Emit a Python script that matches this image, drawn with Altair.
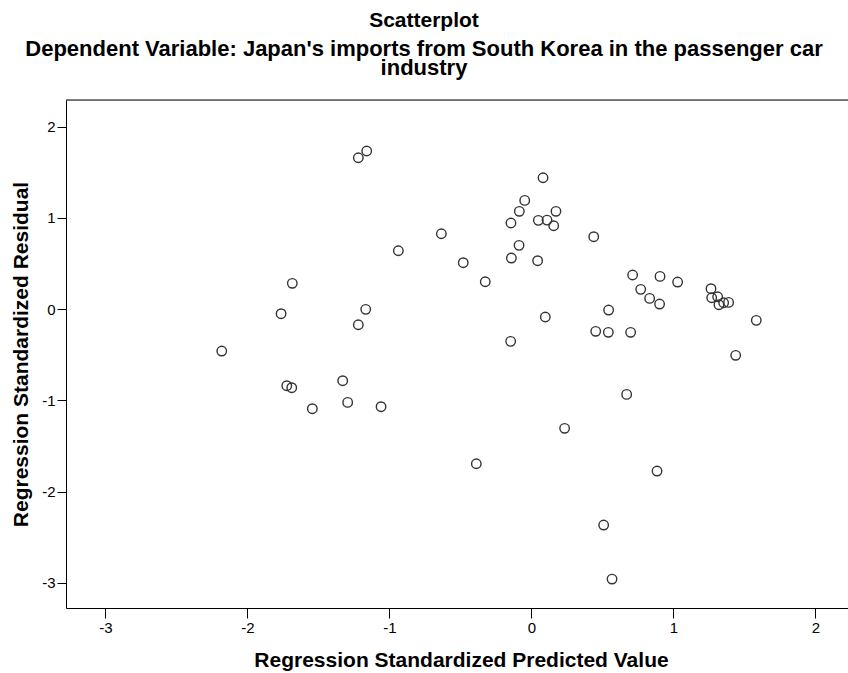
import altair as alt
import pandas as pd

pred = [-1.160, -1.219, -0.634, -0.937, -0.480, -0.325, -1.684, -1.763, -1.167, -1.219,
        -2.181, -1.723, -1.688, -1.329, -1.294, -1.543, -1.059, 0.082, -0.047, -0.085,
        0.173, -0.144, 0.049, 0.110, 0.157, 0.439, -0.087, -0.141, 0.044, 0.713,
        0.906, 1.030, 0.770, 0.833, 0.903, 1.265, 1.270, 1.312, 1.321, 1.354,
        1.389, 1.584, 1.439, 0.544, 0.098, 0.453, 0.542, 0.699, -0.146, 0.671,
        0.234, -0.388, 0.885, 0.509, 0.568]
resid = [1.734, 1.660, 0.827, 0.641, 0.510, 0.301, 0.284, -0.049, -0.001, -0.170,
         -0.458, -0.838, -0.860, -0.783, -1.021, -1.090, -1.068, 1.441, 1.193, 1.073,
         1.073, 0.945, 0.974, 0.977, 0.915, 0.795, 0.700, 0.561, 0.532, 0.375,
         0.360, 0.298, 0.218, 0.119, 0.057, 0.225, 0.126, 0.137, 0.049, 0.071,
         0.075, -0.122, -0.505, -0.009, -0.085, -0.242, -0.253, -0.253, -0.352, -0.933,
         -1.305, -1.693, -1.773, -2.365, -2.957]
ticks = [-3, -2, -1, 0, 1, 2]

df = pd.DataFrame({"pred": pred, "resid": resid})

FONT = "Liberation Sans"
LABEL_EXPR = "'' + datum.value"

points = alt.Chart(df).mark_point(
    shape="circle", filled=False, size=90, strokeWidth=1.4, color="#333333", opacity=1
).encode(
    x=alt.X("pred:Q", scale=alt.Scale(domain=[-3.278, 2.23], nice=False, zero=False),
            axis=alt.Axis(values=ticks, labelExpr=LABEL_EXPR,
                          title="Regression Standardized Predicted Value",
                          grid=False, domainColor="black", tickColor="black", tickSize=10,
                          labelFont=FONT, labelFontSize=15, labelColor="black", labelPadding=2,
                          titleFont=FONT, titleFontSize=21, titleFontWeight="bold",
                          titleColor="black", titlePadding=14, titleX=395)),
    y=alt.Y("resid:Q", scale=alt.Scale(domain=[-3.274, 2.293], nice=False, zero=False),
            axis=alt.Axis(values=ticks, labelExpr=LABEL_EXPR,
                          title="Regression Standardized Residual",
                          grid=False, domainColor="black", tickColor="black", tickSize=9,
                          labelFont=FONT, labelFontSize=15, labelColor="black", labelPadding=2,
                          titleFont=FONT, titleFontSize=21, titleFontWeight="bold",
                          titleColor="black", titlePadding=10)),
)

top_border = alt.Chart(alt.Data(values=[{"a": 1}])).mark_rule(color="black", strokeWidth=1).encode(
    x=alt.value(0), x2=alt.value(782), y=alt.value(0)
)

chart = alt.layer(points, top_border).properties(
    width=782, height=508,
    autosize=alt.AutoSizeParams(type="none"),
    padding={"left": 66, "top": 100, "right": 0, "bottom": 65},
    title=alt.TitleParams(
        text="Scatterplot",
        subtitle=["Dependent Variable: Japan's imports from South Korea in the passenger car", "industry"],
        font=FONT, fontSize=21, fontWeight="bold", color="black",
        subtitleFont=FONT, subtitleFontSize=22, subtitleFontWeight="bold", subtitleColor="black",
        subtitleLineHeight=19, subtitlePadding=8,
        anchor="middle", frame="group", dx=-33, offset=21,
    ),
).configure_view(stroke=None, fill="#f0f0f0").configure(background="white")

chart.save("out.html", embed_options={"renderer": "svg", "actions": False})
